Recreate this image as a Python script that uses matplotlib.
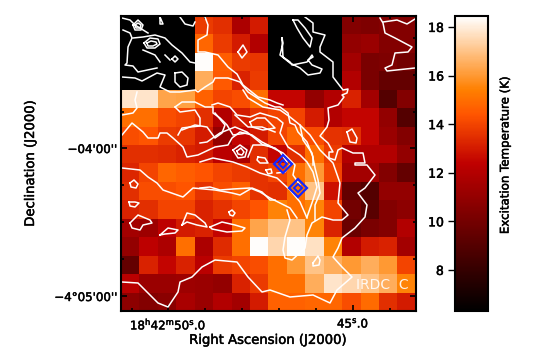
import numpy as np
import matplotlib
matplotlib.use("Agg")
import matplotlib.pyplot as plt
import matplotlib.patheffects as pe

# excitation temperature per map cell, top row first (6.3 = no data)
row00 = [6.3, 6.3, 6.3, 6.3, 13.8, 13.5, 11.8, 13.0, 6.3, 6.3, 6.3, 6.3, 10.5, 10.3, 10.5, 10.5]
row01 = [6.3, 6.3, 6.3, 6.3, 14.8, 13.8, 13.0, 12.0, 6.3, 6.3, 6.3, 6.3, 11.0, 11.2, 10.5, 10.5]
row02 = [6.3, 6.3, 6.3, 6.3, 18.4, 14.6, 13.8, 13.7, 6.3, 6.3, 6.3, 6.3, 11.5, 10.2, 10.3, 10.0]
row03 = [6.3, 6.3, 6.3, 6.3, 16.5, 14.5, 13.2, 13.8, 6.3, 6.3, 6.3, 6.3, 12.0, 10.2, 9.5, 9.5]
row04 = [17.8, 17.8, 16.3, 16.2, 14.7, 14.0, 14.2, 15.0, 12.5, 12.5, 11.0, 12.0, 13.2, 11.5, 9.0, 10.5]
row05 = [15.0, 15.0, 14.2, 14.0, 13.5, 12.0, 13.0, 13.7, 14.0, 14.0, 13.0, 12.0, 12.5, 12.5, 11.0, 9.0]
row06 = [14.2, 14.4, 13.8, 13.7, 13.0, 11.0, 12.5, 13.0, 14.0, 14.8, 14.2, 13.6, 13.5, 12.5, 11.2, 10.5]
row07 = [13.5, 13.5, 13.4, 13.2, 13.0, 12.2, 11.8, 13.5, 12.5, 13.5, 15.0, 13.8, 12.0, 12.0, 12.0, 11.0]
row08 = [13.3, 14.0, 14.8, 14.6, 14.4, 14.0, 13.8, 13.6, 14.0, 15.0, 16.0, 14.0, 11.5, 11.5, 10.5, 9.5]
row09 = [13.5, 14.2, 14.2, 14.4, 13.6, 14.2, 14.7, 13.6, 13.5, 15.0, 17.0, 12.8, 9.5, 9.0, 11.0, 11.0]
row10 = [13.2, 13.5, 14.0, 14.0, 13.2, 13.6, 14.0, 14.4, 15.5, 15.0, 15.5, 14.0, 10.0, 9.2, 10.5, 10.8]
row11 = [11.5, 11.3, 12.3, 13.0, 13.2, 12.5, 15.0, 16.3, 17.0, 17.0, 15.5, 13.2, 9.7, 10.2, 10.5, 12.0]
row12 = [11.0, 12.3, 11.8, 15.0, 11.8, 13.4, 15.0, 18.4, 17.5, 18.4, 17.7, 15.5, 12.0, 13.0, 13.2, 11.5]
row13 = [9.5, 13.2, 12.5, 13.2, 12.2, 13.8, 14.0, 14.2, 15.0, 16.0, 17.0, 16.5, 16.0, 16.5, 16.0, 14.0]
row14 = [12.2, 11.2, 11.2, 11.3, 11.2, 11.0, 13.2, 13.8, 15.0, 15.0, 16.5, 17.8, 17.5, 17.0, 16.5, 15.5]
row15 = [10.8, 10.5, 10.7, 11.7, 11.2, 12.0, 11.5, 13.0, 14.7, 14.7, 14.8, 14.8, 14.2, 14.9, 13.5, 13.0]
tex = np.array([row00, row01, row02, row03, row04, row05, row06, row07,
                row08, row09, row10, row11, row12, row13, row14, row15])

# contour traces in map pixels
c_top_blob = [(293,20),(298,20),(305,28),(312,38),(310,47),(303,38),(297,28),(293,20)]
c_long = [(305,17),(313,23),(313,32),(325,35),(320,47),(320,52),(333,62),(333,77),(343,90),(348,89),(347,93),
          (342,95),(344,97),(338,105),(328,108),(329,120),(327,127),(320,136),(328,143),(333,152),(329,152),
          (329,158),(335,160),(338,150),(342,148),(353,153),(363,153),(365,163),(355,163),(355,165),(367,165),
          (375,175),(365,188),(358,193),(367,205),(365,217),(355,228),(342,238),(338,248),(333,257),(342,267),
          (352,277),(337,290),(330,303),(313,295),(290,297),(270,290),(262,292),(248,277),(237,262),(215,260),
          (202,267),(192,277),(180,282),(178,292),(168,307),(158,303),(148,293),(138,283),(122,282)]
c_right1 = [(380,18),(383,23),(385,33),(395,38),(412,47),(408,52),(395,53),(392,65),(385,68),(387,71),(415,68)]
c_right2 = [(383,22),(397,20),(407,24),(415,19)]
c_mid_blob = [(282,38),(283,43),(280,55),(290,63),(300,68),(308,75),(320,73),(322,69),(312,65),(308,60),(313,57),
              (312,55),(307,62),(292,65),(290,62),(283,57),(282,38)]
c_small1 = [(347,132),(352,129),(357,138),(356,143),(350,142),(347,132)]
c_center1 = [(212,105),(218,103),(230,107),(237,115),(250,117),(260,113),(277,118),(283,123),(280,133),(288,147),
             (300,155),(307,162),(313,172),(317,187),(313,200),(307,217)]
c_center2 = [(243,90),(248,98),(263,107),(280,110),(290,117),(300,125),(303,140),(312,153),(315,168),(318,180),
             (320,193),(315,205),(315,220)]
c_center3 = [(300,125),(310,135),(320,150),(333,163),(340,183),(338,203),(348,215),(342,220),(333,220),(322,217),
             (312,223),(307,235),(305,248),(292,260),(285,258),(283,250),(285,237),(290,220),(287,210)]
c_center_blob = [(250,122),(257,118),(265,118),(272,125),(275,128),(263,130),(252,127),(250,122)]
c_inner1 = [(213,107),(213,113),(220,118),(227,125),(233,135),(247,133)]
c_inner2 = [(200,143),(207,142),(220,133),(235,127),(247,132),(257,140),(263,145),(275,148),(280,152),(287,162)]
c_inner3 = [(248,157),(250,152),(253,145),(267,145),(283,153),(295,165),(293,175),(300,185)]
c_inner4 = [(258,157),(265,158),(268,163),(260,163),(257,160),(258,157)]
c_inner5 = [(277,173),(285,172),(290,165)]
c_ring1 = [(233,150),(240,145),(247,150),(245,157),(238,158),(233,150)]
c_ring2 = [(237,151),(241,148),(244,152),(242,155),(238,154),(237,151)]
c_small2 = [(266,170),(271,169),(272,173),(268,174),(266,170)]
c_band1 = [(200,162),(213,158),(233,162),(247,167),(260,173),(277,178),(290,190),(300,202),(307,218)]
c_band2 = [(200,188),(210,187),(220,190),(233,189),(250,188),(260,192),(270,198),(280,203),(290,208),(297,218)]
c_top1 = [(122,18),(130,20),(135,25),(148,33)]
c_top2 = [(122,77),(135,78),(142,81),(157,73),(165,75),(160,87),(170,92),(180,92),(195,90),(198,92),(205,87),
          (213,82),(215,78),(228,78),(240,82),(248,92),(265,103),(275,107),(280,107),(288,113),(290,123),
          (295,125),(298,132),(307,142),(313,157),(313,165)]
c_top3 = [(123,30),(130,33),(132,38),(128,47),(127,63),(125,65),(133,66),(138,72),(157,68)]
c_top4 = [(133,38),(143,37),(155,35),(165,38),(172,45),(182,53),(190,62),(195,63)]
c_top5 = [(180,17),(185,24),(193,26),(195,22)]
c_top6 = [(143,50),(155,55),(160,62)]
c_top7 = [(205,17),(208,25),(207,35),(198,40),(198,52),(205,52),(218,55),(228,67),(237,74),(243,85),(258,97),
          (270,100),(277,103),(283,105)]
c_top8 = [(160,17),(163,24),(160,24),(160,17)]
c_ell1 = [(144,43),(150,38),(158,39),(160,44),(155,48),(147,48),(144,43)]
c_ell2 = [(147,43),(151,41),(156,42),(157,44),(153,46),(148,46),(147,43)]
c_ring3 = [(133,25),(138,20),(143,25),(141,30),(135,30),(133,25)]
c_ring4 = [(135,25),(138,23),(141,25),(140,28),(136,28),(135,25)]
c_dash1 = [(165,55),(170,60)]
c_circ1 = [(172,59),(175,56),(178,59),(175,62),(172,59)]
c_blob0 = [(175,73),(182,72),(188,78),(187,85),(180,87),(175,82),(175,73)]
c_blob1 = [(238,52),(243,45),(247,52),(242,58),(238,52)]
c_left1 = [(122,135),(132,123),(143,132),(148,138),(158,138),(160,133),(167,133),(173,138),(183,147),(187,157),
           (198,155),(215,147),(228,145),(232,138),(240,132),(252,135),(262,142),(272,147)]
c_left2 = [(175,107),(182,102),(195,102),(205,107),(212,107)]
c_left3 = [(175,107),(180,112),(195,110),(200,118),(200,126),(190,127),(182,128),(178,135)]
c_left4 = [(122,115),(133,113),(137,108),(135,100),(137,92)]
c_mid3 = [(235,115),(248,127),(262,127),(275,132)]
c_mid4 = [(182,130),(195,125),(207,127),(215,138),(222,133),(225,125),(215,113)]
c_low0 = [(122,168),(140,170),(148,177),(157,183),(163,190),(183,197),(193,188),(215,190),(232,193),(240,195),
          (252,188),(262,192),(270,200),(275,200)]
c_blob2 = [(130,223),(138,215),(150,220),(152,223),(143,225),(140,230),(132,228),(130,223)]
c_blob3 = [(160,235),(168,228),(178,230),(175,233),(165,234),(160,235)]
c_blob4 = [(182,225),(187,213),(195,215),(205,223),(207,227),(197,225),(187,222),(182,225)]
c_blob5 = [(210,227),(222,222),(235,225),(245,228),(242,231),(227,232),(212,229),(210,227)]
c_blob6 = [(313,263),(318,256),(320,260),(319,265),(313,266),(313,263)]
c_dot1 = [(130,183),(134,180),(138,184),(136,188),(131,187),(130,183)]
c_dot2 = [(129,202),(135,202),(139,203),(135,207),(130,206),(129,202)]
c_dot3 = [(229,212),(232,210),(235,213),(233,216),(230,215),(229,212)]
contours = [c_top_blob, c_long, c_right1, c_right2, c_mid_blob, c_small1, c_center1, c_center2, c_center3,
            c_center_blob, c_inner1, c_inner2, c_inner3, c_inner4, c_inner5, c_ring1, c_ring2, c_small2,
            c_band1, c_band2, c_top1, c_top2, c_top3, c_top4, c_top5, c_top6, c_top7, c_top8, c_ell1, c_ell2,
            c_ring3, c_ring4, c_dash1, c_circ1, c_blob0, c_blob1, c_left1, c_left2, c_left3, c_left4, c_mid3,
            c_mid4, c_low0, c_blob2, c_blob3, c_blob4, c_blob5, c_blob6, c_dot1, c_dot2, c_dot3]

source_x = [283, 298]
source_y = [164, 188]

ra_major = [168, 353]
ra_minor = [132, 205, 242, 279, 316, 390]
ra_labels = [r"18$^{\mathrm{h}}$42$^{\mathrm{m}}$50$^{\mathrm{s}}$.0", r"45$^{\mathrm{s}}$.0"]
dec_major = [148, 296]
dec_minor = [38, 75, 112, 185, 222, 259]
dec_labels = ["\u221204'00''", "\u22124\u00b005'00''"]
cb_ticks = [8, 10, 12, 14, 16, 18]

plt.rcParams['font.family'] = 'DejaVu Sans'
plt.rcParams['font.size'] = 8.5
plt.rcParams['mathtext.default'] = 'regular'

heavy = [pe.withStroke(linewidth=0.35, foreground='black')]

fig = plt.figure(figsize=(5.54, 3.63), dpi=100)
ax = fig.add_axes([121/554, 1-311/363, 295/554, 295/363])

im = ax.imshow(tex, cmap='gist_heat', vmin=6.31, vmax=18.45, extent=(121, 416, 311, 16),
               interpolation='nearest', aspect='auto')
for c in contours:
    xs, ys = zip(*c)
    ax.plot(xs, ys, color='white', lw=1.1)

ax.plot(source_x, source_y, ls='none', marker='D', ms=9.5, mfc='none', mec='#1428ff', mew=1.6)
ax.plot(source_x, source_y, ls='none', marker='D', ms=4.5, mfc='none', mec='#1428ff', mew=1.4)
ax.text(382, 285, "IRDC  C", color='white', fontsize=10, ha='center', va='center', alpha=0.9)

ax.set_xlim(121, 416)
ax.set_ylim(311, 16)
ax.set_xticks(ra_major)
ax.set_xticklabels(ra_labels, path_effects=heavy)
ax.set_xticks(ra_minor, minor=True)
ax.set_yticks(dec_major)
ax.set_yticklabels(dec_labels, path_effects=heavy)
ax.set_yticks(dec_minor, minor=True)
ax.tick_params(which='major', direction='in', length=4.5, width=1.2, top=True, right=True, pad=4)
ax.tick_params(which='major', axis='y', pad=3)
ax.tick_params(which='minor', direction='in', length=2.5, width=1.2, top=True, right=True)
for s in ax.spines.values():
    s.set_linewidth(1.5)
ax.set_xlabel("Right Ascension (J2000)", fontsize=9.5, labelpad=1, path_effects=heavy)
ax.set_ylabel("Declination (J2000)", fontsize=9.5, labelpad=0, path_effects=heavy)
ax.yaxis.set_label_coords((37-121)/295, (311-163)/295)

cax = fig.add_axes([455/554, 1-311/363, 33/554, 295/363])
cb = fig.colorbar(im, cax=cax)
cb.set_ticks(cb_ticks)
cb.ax.yaxis.set_ticks_position('left')
cb.ax.tick_params(direction='out', length=5, width=1, pad=3, labelsize=9)
for t in cb.ax.get_yticklabels():
    t.set_path_effects(heavy)
cb.outline.set_linewidth(1.5)
fig.text(505/554, 1-155/363, "Excitation Temperature (K)", rotation=90, fontsize=8.5,
         ha='center', va='center', path_effects=heavy)

fig.savefig("out.png", dpi=100)
